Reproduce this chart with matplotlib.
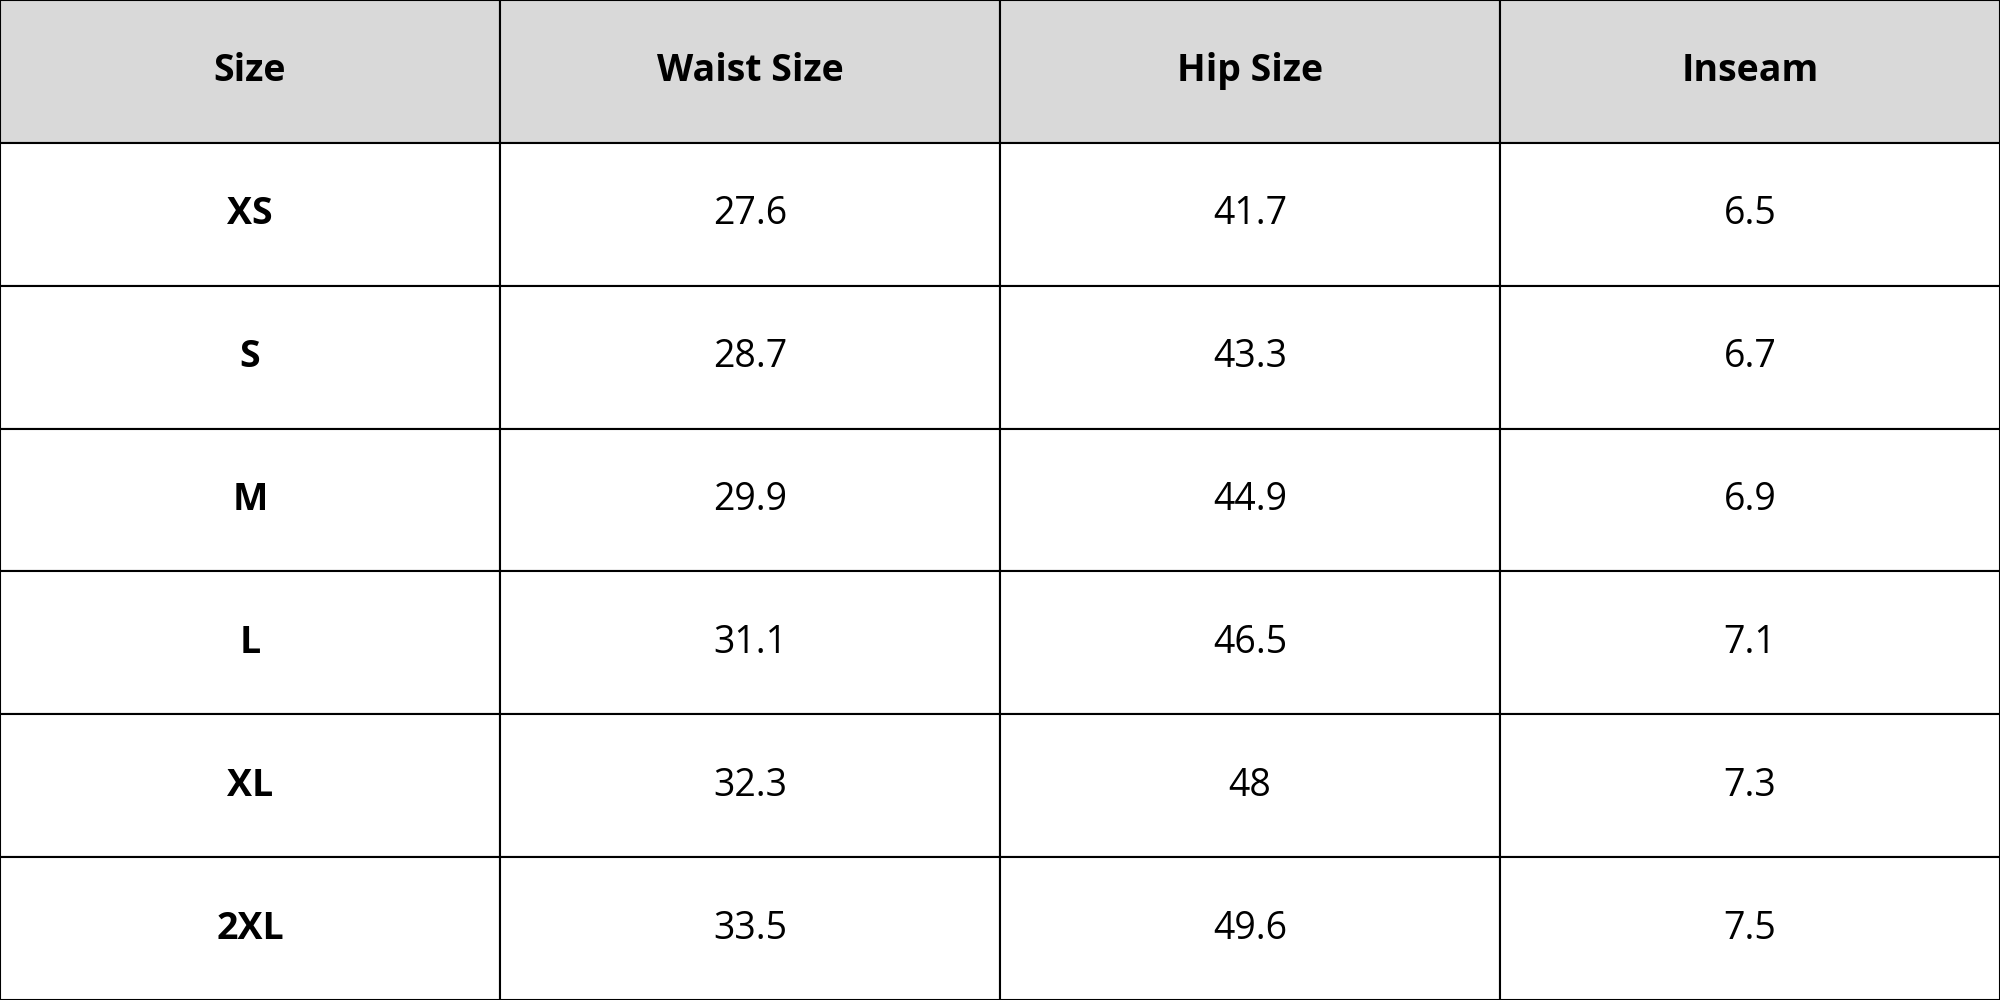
import matplotlib.pyplot as plt

columns = ['Size', 'Waist Size', 'Hip Size', 'Inseam']
sizes = ['XS', 'S', 'M', 'L', 'XL', '2XL']
waist = ['27.6', '28.7', '29.9', '31.1', '32.3', '33.5']
hip = ['41.7', '43.3', '44.9', '46.5', '48', '49.6']
inseam = ['6.5', '6.7', '6.9', '7.1', '7.3', '7.5']

plt.rcParams['font.family'] = ['Open Sans', 'DejaVu Sans']

fig = plt.figure(figsize=(20, 10), dpi=100)
ax = fig.add_axes([0, 0, 1, 1])
ax.axis('off')

rows = [list(r) for r in zip(sizes, waist, hip, inseam)]
tbl = ax.table(cellText=rows, colLabels=columns, cellLoc='center',
               bbox=[0, 0, 1, 1])
tbl.auto_set_font_size(False)

for (r, c), cell in tbl.get_celld().items():
    cell.set_edgecolor('black')
    cell.set_linewidth(1.5)
    txt = cell.get_text()
    txt.set_fontsize(27)
    if r == 0:
        cell.set_facecolor('#d9d9d9')
        txt.set_fontweight('bold')
    else:
        cell.set_facecolor('white')
        if c == 0:
            txt.set_fontweight('bold')

fig.savefig('out.png', dpi=100)
